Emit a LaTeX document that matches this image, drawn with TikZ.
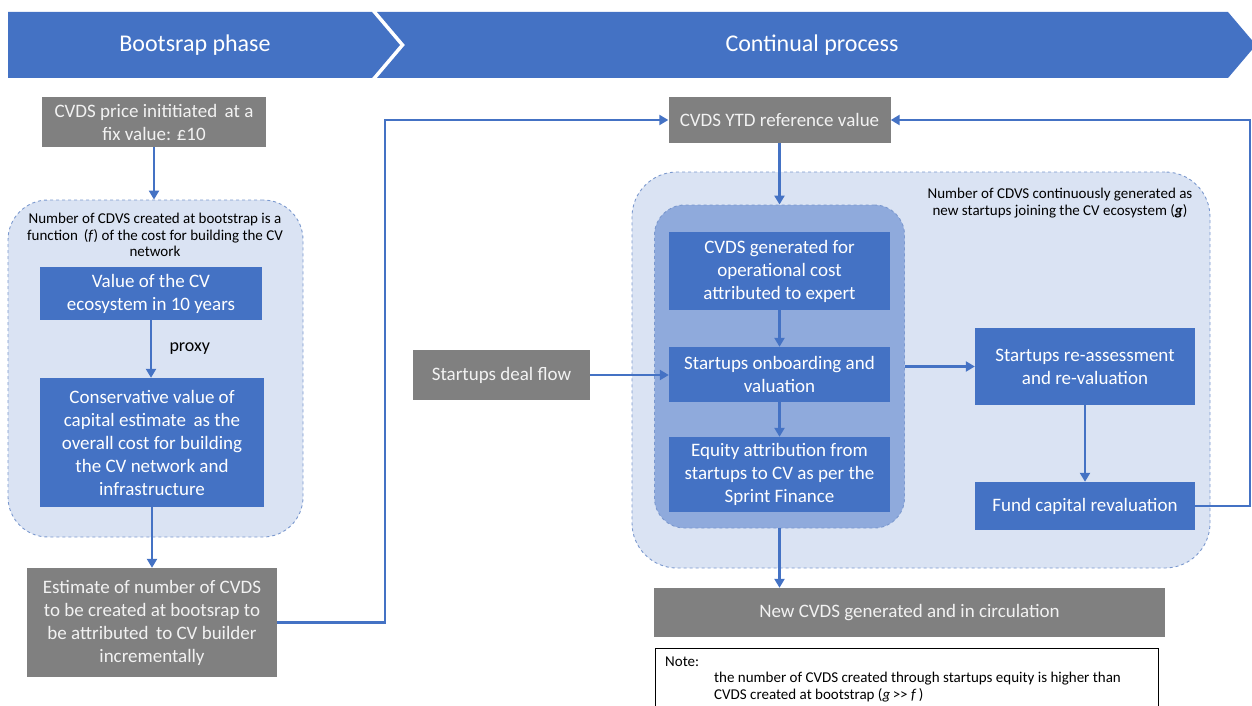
\documentclass[tikz,border=0pt]{standalone}
\usepackage{fontspec}
\setmainfont{Carlito}
\usetikzlibrary{arrows.meta,positioning}
\definecolor{cvblue}{HTML}{4472C4}
\definecolor{cvgray}{HTML}{808080}
\definecolor{regionfill}{HTML}{DAE3F3}
\definecolor{innerfill}{HTML}{8FAADC}
\definecolor{regionline}{HTML}{7A98CE}

\newcommand{\boxfont}{\fontsize{19}{23}\selectfont}
\newcommand{\smallfont}{\fontsize{15}{16.5}\selectfont}

\tikzset{
  bluebox/.style={fill=cvblue, text=white, inner sep=0pt, align=center, font=\boxfont},
  graybox/.style={fill=cvgray, text=white!95!black, inner sep=0pt, align=center, font=\boxfont},
  region/.style={draw=regionline, dashed, line width=0.9pt, fill=regionfill, inner sep=0pt},
  flow/.style={draw=cvblue, line width=2.4pt, -{Triangle[length=9pt,width=10pt]}},
  banner/.style={fill=cvblue},
}

\begin{document}
\begin{tikzpicture}[x=1pt,y=-1pt]
  \useasboundingbox (0,0) rectangle (1252,706);

  % phase banners
  \fill[banner] (8,12) -- (372,12) -- (400,45) -- (372,78) -- (8,78) -- cycle;
  \fill[banner] (377,12) -- (1228,12) -- (1256,45) -- (1228,78) -- (377,78) -- (405,45) -- cycle;
  \node[text=white, font=\fontsize{24}{28}\selectfont] (bootphase) at (195,45) {Bootsrap phase};
  \node[text=white, font=\fontsize{24}{28}\selectfont] (contphase) at (812,45) {Continual process};

  % regions
  \node[region, rounded corners=40pt, minimum width=295pt, minimum height=337pt] (bootreg) at (155.5,368.5) {};
  \node[region, rounded corners=45pt, minimum width=578pt, minimum height=396pt] (contreg) at (921,370) {};
  \node[region, fill=innerfill, rounded corners=30pt, minimum width=250pt, minimum height=323pt] (innerreg) at (779.5,366.5) {};
  \node[font=\smallfont, align=center] (bootlabel) at (155,235)
    {Number of CDVS created at bootstrap is a\\function\, (\textit{f}) of the cost for building the CV\\network};
  \node[font=\smallfont, align=center] (contlabel) at (1060,203)
    {Number of CDVS continuously generated as\\new startups joining the CV ecosystem (\textbf{\textit{g}})};

  % bootstrap phase
  \node[graybox, minimum width=224pt, minimum height=50pt] (price) at (154,122)
    {CVDS price inititiated\, at a\\fix value: £10};
  \node[bluebox, minimum width=222pt, minimum height=53pt] (ecoval) at (151,293.5)
    {Value of the CV\\ecosystem in 10 years};
  \node[bluebox, minimum width=224pt, minimum height=129pt] (capital) at (152,442.5)
    {Conservative value of\\capital estimate\, as the\\overall cost for building\\the CV network and\\infrastructure};
  \node[graybox, minimum width=250pt, minimum height=109pt] (estimate) at (152,622.5)
    {Estimate of number of CVDS\\to be created at bootsrap to\\be attributed\, to CV builder\\incrementally};

  % continual process
  \node[graybox, minimum width=222pt, minimum height=46pt] (ytd) at (779.5,120) {CVDS YTD reference value};
  \node[bluebox, minimum width=221pt, minimum height=78pt] (opcost) at (779.5,271)
    {CVDS generated for\\operational cost\\attributed to expert};
  \node[bluebox, minimum width=221pt, minimum height=55pt] (onboard) at (779.5,374.5)
    {Startups onboarding and\\valuation};
  \node[bluebox, minimum width=221pt, minimum height=75pt] (equity) at (779.5,474.5)
    {Equity attribution from\\startups to CV as per the\\Sprint Finance};
  \node[graybox, minimum width=177pt, minimum height=50pt] (dealflow) at (501.5,375) {Startups deal flow};
  \node[bluebox, minimum width=220pt, minimum height=77pt] (reassess) at (1085,366.5)
    {Startups re-assessment\\and re-valuation};
  \node[bluebox, minimum width=220pt, minimum height=48pt] (fundcap) at (1085,506) {Fund capital revaluation};
  \node[graybox, minimum width=511pt, minimum height=49pt] (newcvds) at (909.5,612.5)
    {New CVDS generated and in circulation};

  % note
  \draw[line width=0.9pt] (655,648) rectangle (1158,720);
  \node[font=\smallfont, anchor=west, inner sep=0pt] (notehead) at (665,662) {Note:};
  \node[font=\smallfont, anchor=north west, align=left, inner sep=0pt] (notetext) at (714,672)
    {the number of CVDS created through startups equity is higher than\\CVDS created at bootstrap (\textit{g}\,>{}> \textit{f}\,)};

  % connectors
  \draw[flow] (price.south) -- (price |- bootreg.north);
  \draw[flow] (ecoval.south) -- (ecoval.south |- capital.north)
    node[midway, right=14pt, font=\fontsize{18}{20}\selectfont] (proxy) {proxy};
  \draw[flow] (capital.south) -- (capital.south |- estimate.north);
  \draw[flow] (estimate.east) -- ++(108,0) |- (ytd.west);
  \draw[flow] (ytd.south) -- (ytd.south |- innerreg.north);
  \draw[flow] (opcost.south) -- (onboard.north);
  \draw[flow] (onboard.south) -- (equity.north);
  \draw[flow] (dealflow.east) -- (dealflow.east -| onboard.west);
  \draw[flow] (innerreg.east |- reassess.west) -- (reassess.west);
  \draw[flow] (reassess.south) -- (fundcap.north);
  \draw[flow] (fundcap.east) -- ++(55,0) |- (ytd.east);
  \draw[flow] (innerreg.south) -- (innerreg.south |- newcvds.north);
\end{tikzpicture}
\end{document}
